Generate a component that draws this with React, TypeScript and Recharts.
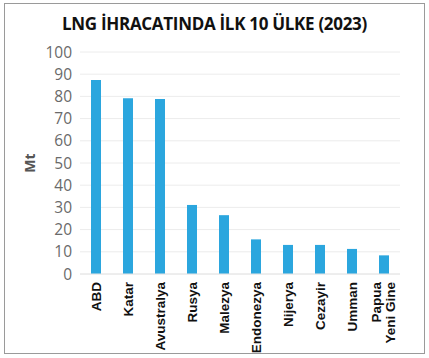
import { BarChart, Bar, XAxis, YAxis, CartesianGrid, Label } from "recharts";

const countries = [
  "ABD",
  "Katar",
  "Avustralya",
  "Rusya",
  "Malezya",
  "Endonezya",
  "Nijerya",
  "Cezayir",
  "Umman",
  "Papua\nYeni Gine",
];
const exportsMt = [87.4, 79.2, 78.8, 31.1, 26.5, 15.6, 13.1, 13.1, 11.3, 8.4];
const yTicks = [0, 10, 20, 30, 40, 50, 60, 70, 80, 90, 100];

const data = countries.map((name, i) => ({ name, value: exportsMt[i] }));

// rotated country names, read bottom-to-top
function CountryTick(props: any) {
  const { x, y, payload } = props;
  const lines = String(payload.value).split("\n");
  const shift = (lines.length - 1) * 0.6;
  return (
    <g transform={`translate(${x},${y})`}>
      <text
        transform="rotate(-90)"
        x={0}
        textAnchor="end"
        fill="#111"
        fontSize={13.5}
        fontWeight={700}
        fontFamily="'Liberation Sans', Arial, sans-serif"
      >
        {lines.map((line, i) => (
          <tspan key={i} x={0} dy={i === 0 ? `${0.35 - shift}em` : "1.1em"}>
            {line}
          </tspan>
        ))}
      </text>
    </g>
  );
}

export default function App() {
  return (
    <div
      style={{
        position: "absolute",
        left: 0,
        top: 0,
        width: 429,
        height: 358,
        background: "#fff",
      }}
    >
      <div
        style={{
          position: "absolute",
          left: 4,
          top: 3,
          width: 421,
          height: 351,
          border: "1px solid #9a9a9a",
          boxSizing: "border-box",
        }}
      />
      <div
        style={{
          position: "absolute",
          left: 0,
          top: 12,
          width: 429,
          textAlign: "center",
          fontFamily: "'Open Sans', sans-serif",
          fontWeight: 700,
          fontSize: 17,
          letterSpacing: -0.3,
          color: "#111",
        }}
      >
        LNG İHRACATINDA İLK 10 ÜLKE (2023)
      </div>
      <BarChart
        width={429}
        height={358}
        data={data}
        margin={{ top: 52, right: 29, left: 0, bottom: 4 }}
        style={{ position: "absolute", left: 0, top: 0 }}
      >
        <CartesianGrid vertical={false} stroke="#ececec" />
        <XAxis
          dataKey="name"
          interval={0}
          height={80}
          axisLine={{ stroke: "#e6e6e6" }}
          tickLine={false}
          tick={<CountryTick />}
        />
        <YAxis
          width={80}
          domain={[0, 100]}
          ticks={yTicks}
          interval={0}
          axisLine={false}
          tickLine={false}
          tickMargin={2}
          tick={{
            fill: "#6a6a6a",
            fontSize: 15.5,
            fontFamily: "'Open Sans', sans-serif",
          }}
        >
          <Label
            value="Mt"
            angle={-90}
            position="insideLeft"
            offset={30}
            style={{
              fill: "#555",
              fontSize: 14,
              fontWeight: 700,
              fontFamily: "'Open Sans', sans-serif",
              textAnchor: "middle",
            }}
          />
        </YAxis>
        <Bar dataKey="value" fill="#2BA6DE" barSize={10} isAnimationActive={false} />
      </BarChart>
    </div>
  );
}
